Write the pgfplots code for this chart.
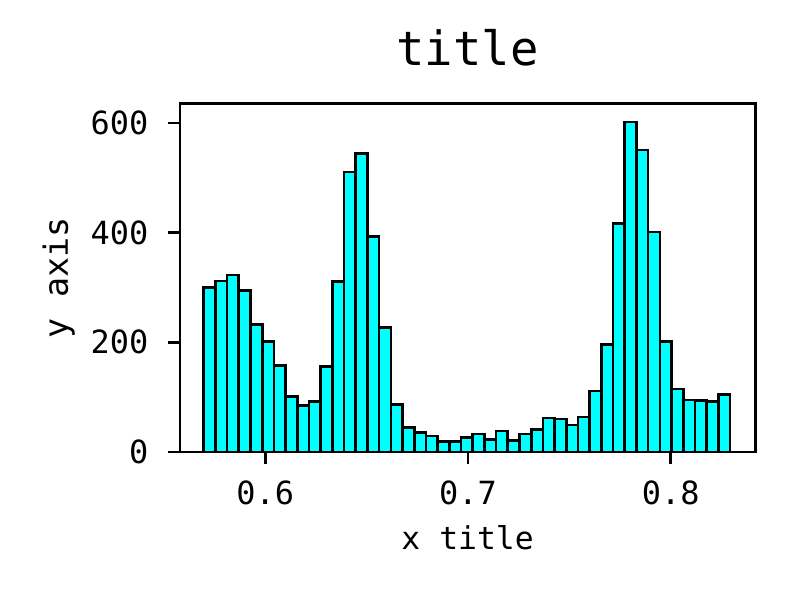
\documentclass[border=0pt]{standalone}
\usepackage{fontspec}
\setmainfont{DejaVu Sans Mono}
\usepackage{pgfplots}
\pgfplotsset{compat=1.18}
\definecolor{aqua}{RGB}{0,255,255}
\begin{document}
\begin{tikzpicture}
\useasboundingbox (-64.8pt,-53.28pt) rectangle (222.84pt,162.72pt);
\begin{axis}[
  scale only axis,
  width=207.1pt, height=125.4pt,
  xmin=0.5579, xmax=0.8417,
  ymin=0, ymax=635.4,
  axis line style={line width=0.9pt},
  tick style={line width=0.9pt, black},
  tick align=outside,
  major tick length=4.3pt,
  xtick={0.6,0.7,0.8},
  ytick={0,200,400,600},
  xtick pos=left, ytick pos=left,
  /pgf/number format/assume math mode=true,
  xticklabel style={font=\fontsize{11.5}{13}\selectfont, yshift=-2.4pt, /pgf/number format/.cd, fixed, precision=1, fixed zerofill},
  yticklabel style={font=\fontsize{11.5}{13}\selectfont, xshift=-3.6pt},
  title={title},
  title style={font=\fontsize{17}{20}\selectfont, at={(axis description cs:0.5,1.114)}, anchor=center, yshift=0pt},
  xlabel={x title},
  xlabel style={font=\fontsize{11.3}{13}\selectfont, at={(axis description cs:0.5,-0.247)}, anchor=center},
  ylabel={y axis},
  ylabel style={font=\fontsize{12}{14}\selectfont, at={(axis description cs:-0.211,0.5)}, anchor=center},
]
\addplot[ybar interval, fill=aqua, draw=black, line width=0.95pt] coordinates {
(0.56960,300) (0.57537,312) (0.58114,323) (0.58691,294) (0.59268,232)
(0.59845,202) (0.60422,158) (0.60999,101) (0.61576,85) (0.62153,92)
(0.62730,156) (0.63307,311) (0.63884,511) (0.64461,545) (0.65038,393)
(0.65615,227) (0.66192,87) (0.66769,45) (0.67346,35) (0.67923,29)
(0.68500,19) (0.69077,19) (0.69654,27) (0.70231,33) (0.70808,23)
(0.71385,38) (0.71962,21) (0.72539,33) (0.73116,41) (0.73693,62)
(0.74270,60) (0.74847,49) (0.75424,64) (0.76001,111) (0.76578,196)
(0.77155,417) (0.77732,602) (0.78309,551) (0.78886,401) (0.79463,201)
(0.80040,115) (0.80617,95) (0.81194,94) (0.81771,92) (0.82348,105)
(0.82925,105)
};
\end{axis}
\end{tikzpicture}
\end{document}
